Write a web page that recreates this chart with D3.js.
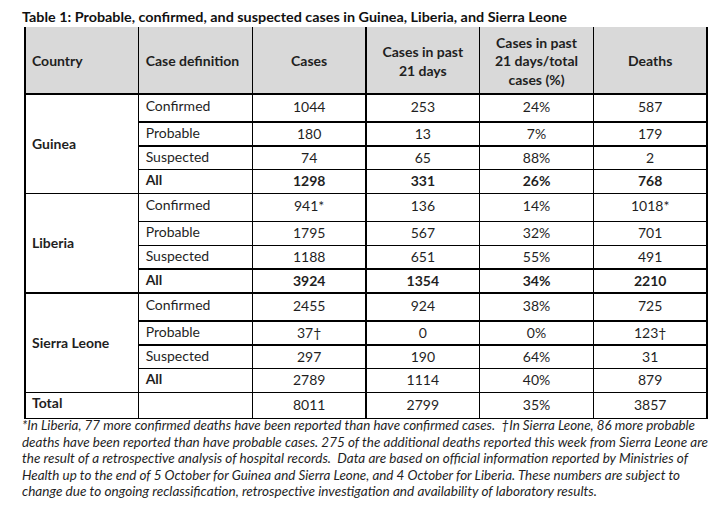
<!DOCTYPE html>
<html>
<head>
<meta charset="utf-8">
<script src="https://cdn.jsdelivr.net/npm/d3@7"></script>
<style>
  html, body { margin: 0; padding: 0; background: #fff; }
  svg { display: block; font-family: Lato, "Open Sans", sans-serif; }
</style>
</head>
<body>
<div id="chart"></div>
<script>
// Table 1 data — Guinea, Liberia, Sierra Leone
const countries = ["Guinea", "Liberia", "Sierra Leone"];
const caseDefs = ["Confirmed", "Probable", "Suspected", "All"];
const cases = [[1044, 180, 74, 1298], [941, 1795, 1188, 3924], [2455, 37, 297, 2789]];
const past21 = [[253, 13, 65, 331], [136, 567, 651, 1354], [924, 0, 190, 1114]];
const pctPast21 = [[24, 7, 88, 26], [14, 32, 55, 34], [38, 0, 64, 40]];
const deaths = [[587, 179, 2, 768], [1018, 701, 491, 2210], [725, 123, 31, 879]];
// footnote marks: [country, case definition, mark]
const marks = [["Liberia", "Confirmed", "*"], ["Sierra Leone", "Probable", "†"]];
const totals = [8011, 2799, 35, 3857];
const headers = [["Country"], ["Case definition"], ["Cases"], ["Cases in past", "21 days"],
  ["Cases in past", "21 days/total", "cases (%)"], ["Deaths"]];
const title = "Table 1: Probable, confirmed, and suspected cases in Guinea, Liberia, and Sierra Leone";
const footnote = [
  "*In Liberia, 77 more confirmed deaths have been reported than have confirmed cases.  †In Sierra Leone, 86 more probable",
  "deaths have been reported than have probable cases. 275 of the additional deaths reported this week from Sierra Leone are",
  "the result of a retrospective analysis of hospital records.  Data are based on official information reported by Ministries of",
  "Health up to the end of 5 October for Guinea and Sierra Leone, and 4 October for Liberia. These numbers are subject to",
  "change due to ongoing reclassification, retrospective investigation and availability of laboratory results."
];

// layout
const W = 721, H = 513;
const headerTop = 27, headerH = 67;
const subRowH = [28, 24, 23.5, 24];   // confirmed / probable / suspected / all
const totalH = 26;
const boldAll = [true, true, false];
const footEnds = [695, 708, 688, 680, 597];
const fs = 14;

const svg = d3.select("#chart").append("svg").attr("width", W).attr("height", H);

const colKeys = d3.range(6);
const x = d3.scaleBand().domain(colKeys).range([25, 707]);

// row positions
const rows = [];
let yy = headerTop + headerH;
countries.forEach((c, ci) => {
  caseDefs.forEach((d, di) => {
    rows.push({ ci, di, top: yy, h: subRowH[di] });
    yy += subRowH[di];
  });
});
const totalTop = yy, tableBottom = yy + totalH;
const groupTop = ci => rows.find(r => r.ci === ci && r.di === 0).top;
const groupBottom = ci => { const r = rows.find(r => r.ci === ci && r.di === 3); return r.top + r.h; };

// header fill
svg.append("rect").attr("x", x(0)).attr("y", headerTop)
  .attr("width", x(5) + x.bandwidth() - x(0)).attr("height", headerH).attr("fill", "#d9d9d9");

// title
svg.append("text").attr("x", 22).attr("y", 22).attr("font-weight", "bold").attr("font-size", 14)
  .attr("fill", "#111").attr("textLength", 545).attr("lengthAdjust", "spacingAndGlyphs").text(title);

// header text
const hg = svg.append("g");
headers.forEach((lines, i) => {
  const left = i < 2;
  const t = hg.append("text")
    .attr("x", left ? x(i) + 7 : x(i) + x.bandwidth() / 2)
    .attr("text-anchor", left ? "start" : "middle")
    .attr("font-weight", "bold").attr("font-size", fs).attr("fill", "#1f1f1f");
  const lh = 18.5, cy = headerTop + headerH / 2 + 1;
  lines.forEach((l, k) => {
    t.append("tspan").attr("x", left ? x(i) + 7 : x(i) + x.bandwidth() / 2)
      .attr("y", cy + (k - (lines.length - 1) / 2) * lh).attr("dy", "0.35em").text(l);
  });
});

// body cells
const cell = (col, cy, str, bold, anchor) => {
  svg.append("text")
    .attr("x", anchor === "start" ? x(col) + 7 : x(col) + x.bandwidth() / 2)
    .attr("y", cy).attr("dy", "0.35em")
    .attr("text-anchor", anchor || "middle")
    .attr("font-size", fs).attr("font-weight", bold ? "bold" : "normal")
    .attr("fill", "#1f1f1f").text(str);
};
const markOf = (ci, di) => {
  const m = marks.find(m => m[0] === countries[ci] && m[1] === caseDefs[di]);
  return m ? m[2] : "";
};

countries.forEach((c, ci) => {
  cell(0, (groupTop(ci) + groupBottom(ci)) / 2, c, true, "start");
});
rows.forEach(r => {
  const cy = r.top + r.h / 2 - (r.di === 0 ? 1 : 0);
  const isAll = r.di === 3;
  const b = isAll && boldAll[r.ci];
  const m = markOf(r.ci, r.di);
  cell(1, cy - 1, caseDefs[r.di], isAll, "start");
  cell(2, cy, cases[r.ci][r.di] + m, b);
  cell(3, cy, past21[r.ci][r.di], b);
  cell(4, cy, pctPast21[r.ci][r.di] + "%", b);
  cell(5, cy, deaths[r.ci][r.di] + m, b);
});
// total row
const tcy = totalTop + totalH / 2;
cell(0, tcy - 2, "Total", true, "start");
totals.forEach((v, i) => cell(i + 2, tcy, i === 2 ? v + "%" : v, false));

// grid lines
const lg = svg.append("g").attr("stroke", "#000").attr("stroke-width", 1.2).attr("shape-rendering", "crispEdges");
colKeys.concat([6]).forEach(i => {
  const xv = i < 6 ? x(i) : x(5) + x.bandwidth();
  lg.append("line").attr("x1", xv).attr("x2", xv).attr("y1", headerTop).attr("y2", tableBottom);
});
// full-width horizontals
[headerTop + headerH, ...countries.map((c, ci) => groupBottom(ci)), tableBottom].forEach(yv => {
  lg.append("line").attr("x1", x(0)).attr("x2", x(5) + x.bandwidth()).attr("y1", yv).attr("y2", yv);
});
// sub-row horizontals (skip country column)
rows.filter(r => r.di < 3).forEach(r => {
  const yv = r.top + r.h;
  lg.append("line").attr("x1", x(1)).attr("x2", x(5) + x.bandwidth()).attr("y1", yv).attr("y2", yv);
});

// footnote
footnote.forEach((l, i) => {
  svg.append("text").attr("x", 22).attr("y", 430 + i * 16.6)
    .attr("font-size", 13.5).attr("font-style", "italic").attr("fill", "#1f1f1f")
    .attr("textLength", footEnds[i] - 22).attr("lengthAdjust", "spacingAndGlyphs")
    .attr("xml:space", "preserve").text(l);
});
</script>
</body>
</html>
